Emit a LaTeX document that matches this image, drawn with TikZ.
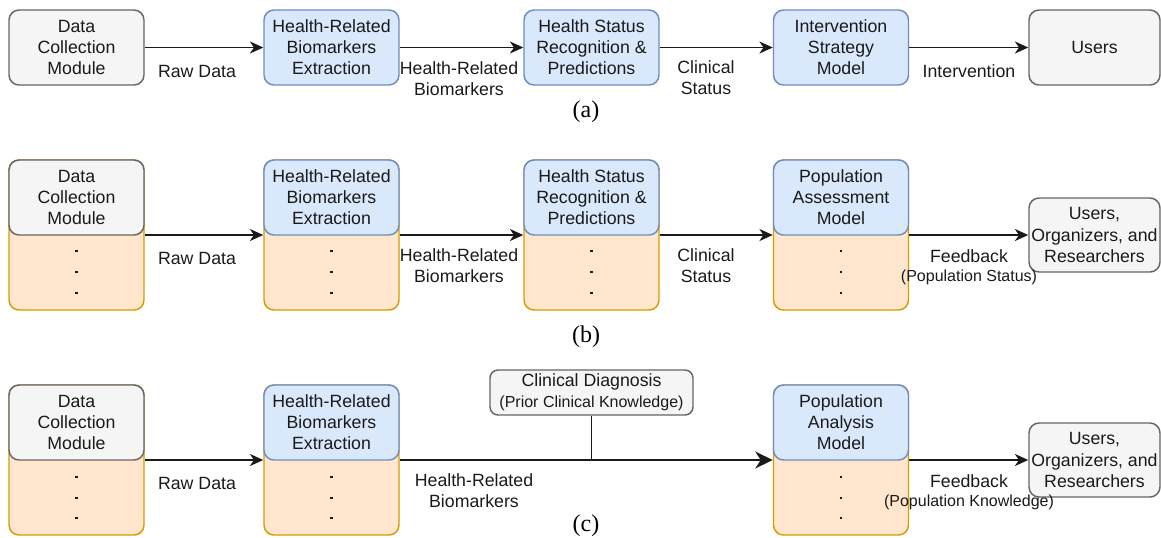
\documentclass[tikz,border=0pt]{standalone}
\usepackage{fontspec}
\setmainfont{Liberation Sans}
\newfontfamily\capfont{Liberation Serif}
\usetikzlibrary{arrows.meta}

\definecolor{grayfill}{HTML}{F5F5F5}
\definecolor{grayline}{HTML}{666666}
\definecolor{bluefill}{HTML}{DAE8FC}
\definecolor{blueline}{HTML}{6C8EBF}
\definecolor{orangefill}{HTML}{FFE6CC}
\definecolor{orangeline}{HTML}{D79B00}
\definecolor{linecol}{HTML}{1A1A1A}

\tikzset{
  box/.style={rounded corners=7.5pt, line width=1.1pt, minimum width=101.25pt,
    minimum height=56.25pt, align=center, inner sep=1pt, text=linecol,
    font=\fontsize{13.3}{15.8}\selectfont},
  graybox/.style={box, draw=grayline, fill=grayfill},
  bluebox/.style={box, draw=blueline, fill=bluefill},
  basebox/.style={box, draw=orangeline, fill=orangefill, minimum height=112.5pt},
  flow/.style={-{Stealth[length=10pt,width=9pt,inset=3pt]}, line width=1.1pt, draw=linecol},
  bigflow/.style={-{Stealth[length=13pt,width=12.5pt,inset=4pt]}, line width=2.2pt, draw=linecol},
  lbl/.style={align=center, inner sep=0pt, text=linecol, font=\fontsize{13.3}{15.8}\selectfont},
  small/.style={align=center, inner sep=0pt, text=linecol, font=\fontsize{12}{14}\selectfont},
  subcap/.style={inner sep=0pt, font=\capfont\fontsize{18}{20}\selectfont}
}

\begin{document}
\begin{tikzpicture}[x=0.75pt,y=-0.75pt]
  \useasboundingbox (0,0) rectangle (1161,537);

  % (a)
  \node[graybox] (dcA) at (76.5,47.5) {Data\\Collection\\Module};
  \node[bluebox] (bmA) at (331.5,47.5) {Health-Related\\Biomarkers\\Extraction};
  \node[bluebox] (hsA) at (591.5,47.5) {Health Status\\Recognition \&\\Predictions};
  \node[bluebox] (isA) at (841,47.5) {Intervention\\Strategy\\Model};
  \node[graybox, minimum width=98.25pt] (usA) at (1094.5,47.5) {Users};
  \draw[flow] (dcA) -- (bmA);
  \draw[flow] (bmA) -- (hsA);
  \draw[flow] (hsA) -- (isA);
  \draw[flow] (isA) -- (usA);
  \node[lbl] at (197,71) {Raw Data};
  \node[lbl] at (459,78.5) {Health-Related\\Biomarkers};
  \node[lbl] at (706,78) {Clinical\\Status};
  \node[lbl] at (969,71) {Intervention};
  \node[subcap] at (586,112) {(a)};

  % (b)
  \node[basebox] (dcB) at (76.5,235) {};
  \node[graybox] (dcBt) at (76.5,197.5) {Data\\Collection\\Module};
  \node[basebox] (bmB) at (331.5,235) {};
  \node[bluebox] (bmBt) at (331.5,197.5) {Health-Related\\Biomarkers\\Extraction};
  \node[basebox] (hsB) at (591.5,235) {};
  \node[bluebox] (hsBt) at (591.5,197.5) {Health Status\\Recognition \&\\Predictions};
  \node[basebox] (paB) at (841,235) {};
  \node[bluebox] (paBt) at (841,197.5) {Population\\Assessment\\Model};
  \node[graybox, minimum width=98.25pt, minimum height=55.5pt] (usB) at (1094.5,235) {Users,\\Organizers, and\\Researchers};
  \foreach \cx in {76.5,331.5,591.5,841}
    \foreach \dy in {251,272,293}
      \fill[linecol] (\cx-1.3,\dy-1.3) rectangle ++(2.6,2.6);
  \draw[flow] (dcB) -- (bmB);
  \draw[flow] (bmB) -- (hsB);
  \draw[flow] (hsB) -- (paB);
  \draw[flow] (paB) -- (usB);
  \node[lbl] at (197,258) {Raw Data};
  \node[lbl] at (459,266) {Health-Related\\Biomarkers};
  \node[lbl] at (706,266) {Clinical\\Status};
  \node[lbl] at (969,256) {Feedback};
  \node[small] at (969,277) {(Population Status)};
  \node[subcap] at (586,337) {(b)};

  % (c)
  \node[basebox] (dcC) at (76.5,460) {};
  \node[graybox] (dcCt) at (76.5,422.5) {Data\\Collection\\Module};
  \node[basebox] (bmC) at (331.5,460) {};
  \node[bluebox] (bmCt) at (331.5,422.5) {Health-Related\\Biomarkers\\Extraction};
  \node[basebox] (paC) at (841,460) {};
  \node[bluebox] (paCt) at (841,422.5) {Population\\Analysis\\Model};
  \node[graybox, minimum width=98.25pt, minimum height=55.5pt] (usC) at (1094.5,460) {Users,\\Organizers, and\\Researchers};
  \node[graybox, minimum width=152.25pt, minimum height=33.75pt, rounded corners=6pt] (cdC) at (591.5,392.5)
    {Clinical Diagnosis\\{\fontsize{12}{14}\selectfont(Prior Clinical Knowledge)}};
  \coordinate (jnC) at (cdC.south |- bmC.east);
  \foreach \cx in {76.5,331.5,841}
    \foreach \dy in {477,498,518}
      \fill[linecol] (\cx-1.3,\dy-1.3) rectangle ++(2.6,2.6);
  \draw[flow] (dcC) -- (bmC);
  \draw[line width=1.1pt, draw=linecol] (bmC.east) -- (jnC);
  \draw[line width=1.1pt, draw=linecol] (cdC.south) -- (jnC);
  \draw[bigflow] (jnC) -- (paC.west);
  \draw[flow] (paC) -- (usC);
  \node[lbl] at (197,483) {Raw Data};
  \node[lbl] at (474,491) {Health-Related\\Biomarkers};
  \node[lbl] at (969,481) {Feedback};
  \node[small] at (969,502) {(Population Knowledge)};
  \node[subcap] at (586,526) {(c)};
\end{tikzpicture}
\end{document}
